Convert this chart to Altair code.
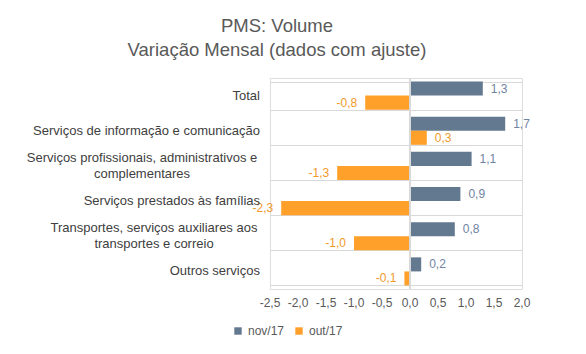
import altair as alt
import pandas as pd

categories = [
    "Total",
    "Serviços de informação e comunicação",
    "Serviços profissionais, administrativos e|complementares",
    "Serviços prestados às famílias",
    "Transportes, serviços auxiliares aos|transportes e correio",
    "Outros serviços",
]
nov17 = [1.3, 1.7, 1.1, 0.9, 0.8, 0.2]
out17 = [-0.8, 0.3, -1.3, -2.3, -1.0, -0.1]
series = ["nov/17", "out/17"]
x_ticks = [-2.5, -2.0, -1.5, -1.0, -0.5, 0.0, 0.5, 1.0, 1.5, 2.0]

rows = []
for c, a, b in zip(categories, nov17, out17):
    rows.append({"cat": c, "serie": series[0], "v": a})
    rows.append({"cat": c, "serie": series[1], "v": b})
df = pd.DataFrame(rows)
cat_df = pd.DataFrame({"cat": categories})
tick_df = pd.DataFrame({"t": x_ticks})

colors = ["#63798f", "#ffa02a"]
text_colors = ["#6f84a3", "#f09a2c"]

FONT = "Liberation Sans"
FMT = "replace(replace(format({f}, '.1f'), '.', ','), '\u2212', '-')"

base = alt.Chart(df).transform_calculate(lbl=FMT.format(f="datum.v"))

y_enc = alt.Y(
    "cat:N",
    sort=categories,
    title=None,
    scale=alt.Scale(paddingInner=0.2, paddingOuter=0.1),
    axis=alt.Axis(
        domain=False,
        ticks=False,
        labels=False,
        grid=True,
        gridColor="#d9d9d9",
        tickBand="extent",
    ),
)

x_scale = alt.Scale(domain=[-2.5, 2.0], nice=False)
x_enc = alt.X(
    "v:Q",
    scale=x_scale,
    title=None,
    axis=None,
)

yoff = alt.YOffset("serie:N", sort=series)

bars = base.mark_bar().encode(
    y=y_enc,
    x=x_enc,
    yOffset=yoff,
    color=alt.Color(
        "serie:N",
        sort=series,
        scale=alt.Scale(domain=series, range=colors),
        legend=alt.Legend(
            title=None,
            orient="none",
            direction="horizontal",
            legendX=-38,
            legendY=247,
            symbolType="square",
            symbolSize=55,
            labelFont=FONT,
            labelFontSize=12,
            labelColor="#595959",
            columnPadding=8,
        ),
    ),
)

text_color = alt.condition(
    "datum.serie == 'nov/17'", alt.value(text_colors[0]), alt.value(text_colors[1])
)

pos_text = base.transform_filter("datum.v >= 0").mark_text(
    align="left", baseline="middle", dx=8, font=FONT, fontSize=12
).encode(
    y=alt.Y("cat:N", sort=categories),
    x=alt.X("v:Q"),
    yOffset=yoff,
    text="lbl:N",
    color=text_color,
)

neg_text = base.transform_filter("datum.v < 0").mark_text(
    align="right", baseline="middle", dx=-8, font=FONT, fontSize=12
).encode(
    y=alt.Y("cat:N", sort=categories),
    x=alt.X("v:Q"),
    yOffset=yoff,
    text="lbl:N",
    color=text_color,
)

zero_rule = base.mark_rule(color="#d9d9d9", strokeWidth=1).encode(x=alt.datum(0))

tick_labels = alt.Chart(tick_df).transform_calculate(
    tl=FMT.format(f="datum.t")
).mark_text(
    align="center", baseline="middle", font=FONT, fontSize=12, color="#595959"
).encode(
    x=alt.X("t:Q", scale=x_scale),
    y=alt.value(225),
    text="tl:N",
)

cat_base = alt.Chart(cat_df).transform_calculate(lines="split(datum.cat, '|')")

cat_single = cat_base.transform_filter("indexof(datum.cat, '|') < 0").mark_text(
    align="right", baseline="middle", font=FONT, fontSize=13, color="#404040"
).encode(
    y=alt.Y("cat:N", sort=categories),
    x=alt.value(-10),
    text="cat:N",
)

cat_multi1 = cat_base.transform_filter("indexof(datum.cat, 'profissionais') >= 0").mark_text(
    align="center", baseline="middle", font=FONT, fontSize=13, color="#404040",
    lineHeight=16, dy=-8,
).encode(
    y=alt.Y("cat:N", sort=categories),
    x=alt.value(-128),
    text="lines:N",
)

cat_multi2 = cat_base.transform_filter("indexof(datum.cat, 'Transportes') >= 0").mark_text(
    align="center", baseline="middle", font=FONT, fontSize=13, color="#404040",
    lineHeight=16, dy=-8,
).encode(
    y=alt.Y("cat:N", sort=categories),
    x=alt.value(-116),
    text="lines:N",
)

chart = alt.layer(
    bars, zero_rule, pos_text, neg_text, tick_labels, cat_single, cat_multi1, cat_multi2
).properties(
    width=252,
    height=211,
    title=alt.TitleParams(
        ["PMS: Volume", "Variação Mensal (dados com ajuste)"],
        font=FONT,
        fontSize=18.5,
        fontWeight="normal",
        color="#595959",
        anchor="middle",
        frame="group",
        dx=-119,
        offset=18,
        lineHeight=24,
    ),
    autosize=alt.AutoSizeParams(type="none"),
    padding={"left": 270, "top": 78, "right": 64, "bottom": 65},
).configure_view(strokeWidth=0).configure(background="white")

chart.save("out.html", embed_options={"renderer": "svg", "actions": False})
